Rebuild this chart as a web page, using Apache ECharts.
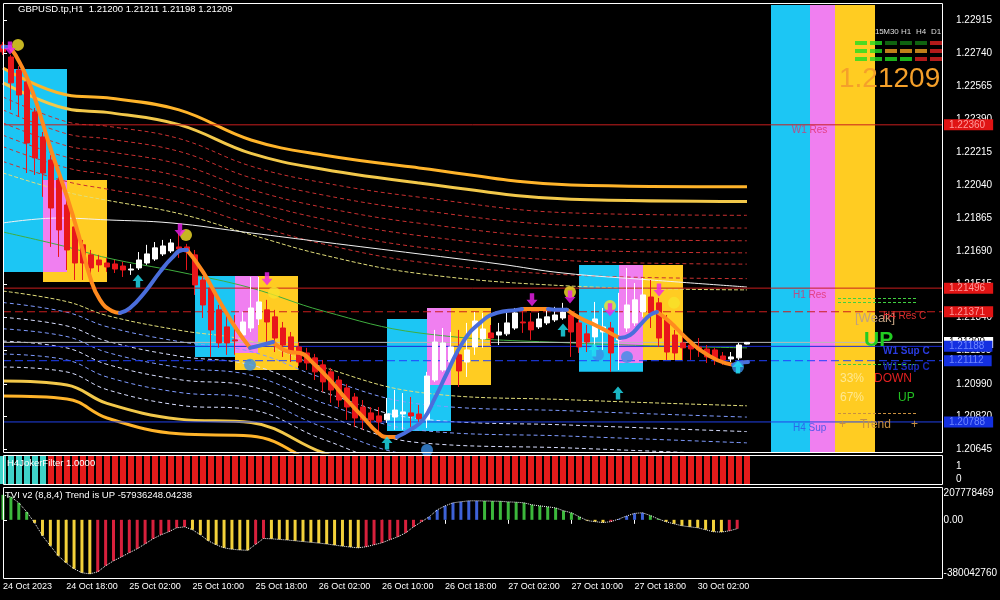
<!DOCTYPE html>
<html><head><meta charset="utf-8">
<script src="https://cdn.jsdelivr.net/npm/echarts@6/dist/echarts.min.js"></script>
<style>html,body{margin:0;padding:0;background:#000;}#c{width:1000px;height:600px;}</style>
</head><body><div id="c"></div>
<script>
// ---------------- DATA ----------------
const timeLabels = ['24 Oct 2023','24 Oct 18:00','25 Oct 02:00','25 Oct 10:00','25 Oct 18:00','26 Oct 02:00','26 Oct 10:00','26 Oct 18:00','27 Oct 02:00','27 Oct 10:00','27 Oct 18:00','30 Oct 02:00'];
const priceTicks = [1.22915,1.22740,1.22565,1.22390,1.22215,1.22040,1.21865,1.21690,1.21515,1.21340,1.21165,1.20990,1.20820,1.20645];

const openP = [1.22783,1.22719,1.22650,1.22587,1.22428,1.22296,1.22174,1.22068,1.21936,1.21820,
1.21725,1.21672,1.21645,1.21629,1.21624,1.21613,1.21592,1.21603,1.21629,1.21650,
1.21677,1.21693,1.21714,1.21714,1.21672,1.21539,1.21497,1.21381,1.21291,1.21222,
1.21248,1.21285,1.21333,1.21381,1.21344,1.21285,1.21238,1.21185,1.21153,1.21127,
1.21090,1.21053,1.21010,1.20968,1.20920,1.20867,1.20836,1.20820,1.20799,1.20814,
1.20830,1.20836,1.20830,1.20799,1.21010,1.21063,1.21105,1.21143,1.21105,1.21185,
1.21227,1.21259,1.21248,1.21254,1.21285,1.21317,1.21317,1.21291,1.21312,1.21328,
1.21338,1.21354,1.21312,1.21254,1.21238,1.21264,1.21285,1.21222,1.21285,1.21312,
1.21370,1.21449,1.21418,1.21328,1.21248,1.21206,1.21195,1.21185,1.21174,1.21169,
1.21137,1.21121,1.21127,1.21200];
const highP = [1.22799,1.22730,1.22672,1.22598,1.22449,1.22322,1.22201,1.22095,1.21963,1.21846,
1.21751,1.21698,1.21672,1.21656,1.21645,1.21635,1.21624,1.21687,1.21725,1.21740,
1.21751,1.21756,1.21788,1.21730,1.21698,1.21560,1.21518,1.21407,1.21354,1.21354,
1.21370,1.21555,1.21555,1.21434,1.21381,1.21317,1.21264,1.21211,1.21180,1.21148,
1.21116,1.21074,1.21031,1.20989,1.20941,1.20904,1.20867,1.20867,1.20915,1.20957,
1.20941,1.20920,1.20878,1.21053,1.21275,1.21285,1.21264,1.21275,1.21312,1.21370,
1.21365,1.21301,1.21312,1.21365,1.21391,1.21381,1.21365,1.21365,1.21381,1.21397,
1.21418,1.21370,1.21328,1.21301,1.21423,1.21391,1.21317,1.21471,1.21603,1.21523,
1.21550,1.21539,1.21444,1.21354,1.21275,1.21238,1.21222,1.21232,1.21195,1.21180,
1.21158,1.21158,1.21206,1.21211];
const lowP = [1.22730,1.22439,1.22402,1.22105,1.22095,1.21979,1.21714,1.21661,1.21592,1.21539,
1.21539,1.21555,1.21582,1.21582,1.21576,1.21555,1.21566,1.21592,1.21619,1.21640,
1.21666,1.21682,1.21656,1.21592,1.21460,1.21338,1.21132,1.21180,1.21143,1.21143,
1.21222,1.21264,1.21301,1.21211,1.21158,1.21132,1.21105,1.21084,1.21063,1.21010,
1.20947,1.20889,1.20867,1.20799,1.20762,1.20746,1.20756,1.20735,1.20783,1.20746,
1.20746,1.20762,1.20783,1.20756,1.21000,1.21053,1.21090,1.20973,1.21026,1.21143,
1.21180,1.21195,1.21195,1.21243,1.21275,1.21259,1.21222,1.21280,1.21301,1.21317,
1.21328,1.21132,1.21153,1.21158,1.21185,1.21169,1.21053,1.21063,1.21264,1.21296,
1.21344,1.21285,1.21185,1.21116,1.21116,1.21116,1.21116,1.21132,1.21100,1.21090,
1.21090,1.21105,1.21116,1.21198];
const closeP = [1.22746,1.22582,1.22518,1.22264,1.22185,1.22105,1.21920,1.21804,1.21698,1.21629,
1.21629,1.21603,1.21619,1.21608,1.21597,1.21592,1.21597,1.21645,1.21677,1.21709,
1.21719,1.21735,1.21703,1.21687,1.21513,1.21407,1.21275,1.21206,1.21206,1.21217,
1.21317,1.21391,1.21423,1.21317,1.21232,1.21195,1.21158,1.21105,1.21100,1.21053,
1.21000,1.20957,1.20904,1.20867,1.20809,1.20799,1.20799,1.20788,1.20830,1.20851,
1.20841,1.20820,1.20804,1.21031,1.21211,1.21206,1.21185,1.21058,1.21169,1.21322,
1.21280,1.21232,1.21264,1.21312,1.21365,1.21312,1.21275,1.21333,1.21344,1.21354,
1.21370,1.21264,1.21185,1.21211,1.21333,1.21291,1.21153,1.21238,1.21407,1.21434,
1.21460,1.21365,1.21232,1.21158,1.21153,1.21180,1.21174,1.21169,1.21132,1.21127,
1.21116,1.21132,1.21195,1.21209];

// moving averages / envelope (bar position, price)
const maSlots   = [0, 8, 13, 22, 31, 40, 52, 71, 93];
const greenMA   = [1.21793,1.21714,1.21656,1.21582,1.21497,1.21375,1.21259,1.21206,1.21180];
const bandWidth = [0.00868,0.00804,0.00847,0.00857,0.00783,0.00825,0.00873,0.00836,0.00852];
const bandLevels = [0.36,0.43,0.52,0.59,0.665,0.744,0.823,0.909,1.0];
const whiteSlots = [0,7,13,21,31,40,52,62,70,81,93];
const whiteMA    = [1.21841,1.21867,1.21857,1.21841,1.21788,1.21740,1.21677,1.21624,1.21576,1.21539,1.21502];

// trend line segments
const trendOrange = [
 [[0.875,1.22772],[2.125,1.22687],[3.75,1.22529],[5.875,1.22243],[8.0,1.21979],[9.625,1.21751],[10.875,1.21555],[12.125,1.21434],[13.625,1.21375],[14.625,1.21365]],
 [[23.0,1.21698],[25.0,1.21582],[27.125,1.21423],[29.25,1.21275],[30.875,1.21180]],
 [[33.75,1.21211],[35.875,1.21158],[37.125,1.21153],[38.75,1.21100],[40.875,1.21010],[43.0,1.20904],[45.0,1.20814],[46.75,1.20735],[48.0,1.20709],[49.25,1.20709]],
 [[64.875,1.21386],[66.5,1.21386],[68.125,1.21386]],
 [[70.5,1.21381],[72.125,1.21338],[74.0,1.21301],[75.875,1.21259],[77.125,1.21232]],
 [[81.75,1.21370],[83.375,1.21317],[85.25,1.21238],[87.125,1.21169],[89.25,1.21116],[91.25,1.21090]]
];
const trendBlue = [
 [[0.0,1.22772],[0.875,1.22772]],
 [[14.625,1.21365],[15.875,1.21391],[17.75,1.21476],[19.625,1.21582],[21.125,1.21656],[22.5,1.21698],[23.0,1.21698]],
 [[30.875,1.21180],[32.375,1.21195],[33.75,1.21211]],
 [[49.25,1.20709],[50.875,1.20746],[52.5,1.20799],[54.0,1.20915],[55.5,1.21047],[57.5,1.21211],[59.625,1.21312],[61.75,1.21365],[64.25,1.21381],[64.875,1.21386]],
 [[68.125,1.21386],[69.625,1.21381],[70.5,1.21381]],
 [[77.125,1.21232],[78.375,1.21248],[79.625,1.21301],[80.875,1.21354],[81.75,1.21370]],
 [[91.25,1.21090],[92.125,1.21100],[93.125,1.21105]]
];

// signals
const sellArrows = [[0.875,1.22767],[22.125,1.21804],[33.0,1.21545],[66.125,1.21434],[70.875,1.21449],[75.875,1.21381],[82.0,1.21486]];
const yellowDots = [[1.875,1.22783],[22.875,1.21777],[33.875,1.21471],[70.875,1.21476],[75.875,1.21402],[83.875,1.21418]];
const buyArrows  = [[16.875,1.21534],[48.0,1.20677],[70.0,1.21275],[73.875,1.21169],[76.875,1.20941],[91.875,1.21079]];
const blueDots   = [[30.875,1.21090],[53.0,1.20640],[78.0,1.21132],[74.375,1.21143],[91.875,1.21079]];

// session boxes [x0, x1, top, bottom]
const cyanBoxes   = [[0,8,1.22656,1.21582],[24,29,1.21560,1.21132],[48,56,1.21333,1.20740],[72,80,1.21619,1.21053]];
const yellowBoxes = [[5,13,1.22068,1.21529],[29,36.875,1.21560,1.21063],[53,61,1.21391,1.20984],[80,85,1.21619,1.21116]];
const pinkBoxes   = [[5,8,1.22068,1.21582],[29,31.875,1.21560,1.21153],[53,56,1.21391,1.20984],[77,80,1.21619,1.21100]];
const sideColumns = [[96,100.875,'#1CC6F4'],[100.875,104,'#F07FF0'],[104,109,'#FFCC22']];

// levels
const levelPrices = [1.22360,1.21496,1.21371,1.21209,1.21188,1.21112,1.20788];
const levelNames  = [['W1 Res',98.6,1.22333,'#E0306A'],['H1 Res',98.75,1.21460,'#E0306A'],['H4 Sup',98.75,1.20756,'#3050E8']];

// sub indicators
const jokerState = 'UUUUUUDDDDDDDDDDDDDDDDDDDDDDDDDDDDDDDDDDDDDDDDDDDDDDDDDDDDDDDDDDDDDDDDDDDDDDDDDDDDDDDDDDDDDDDD';
const tviValues = [163,150,111,52,-20,-104,-170,-235,-281,-320,
-346,-353,-340,-300,-268,-242,-215,-189,-157,-124,
-98,-78,-52,-46,-65,-98,-137,-163,-183,-192,
-197,-199,-160,-122,-124,-128,-132,-137,-142,-147,
-152,-158,-165,-172,-178,-183,-176,-163,-150,-130,
-111,-85,-46,-13,20,65,91,111,118,124,
124,123,122,121,117,115,111,98,91,85,
78,59,46,20,-5,-12,-18,-12,5,25,
42,46,28,6,-13,-26,-39,-46,-52,-65,
-78,-80,-72,-57.936248]; // millions
const tviMax = 207.778469, tviMin = -380.04276;

// MTF panel
const mtfFrames = ['M5','M15','M30','H1','H4','D1'];
const mtfRows = ['MACD','STR','EMA'];
const mtfState = [['g','g','d','d','d','r'],['g','g','o','o','o','r'],['g','g','g','g','r','r']];

// ---------------- CHART ----------------
const F = 'Liberation Sans';
const XMAX = 117.375;
const chart = echarts.init(document.getElementById('c'));
const series = [];

function boxSeries(boxes, color, z){
  return {type:'line', xAxisIndex:0, yAxisIndex:0, data:[[-5,1.21]], symbol:'none', lineStyle:{opacity:0}, z:z, silent:true,
    markArea:{silent:true, itemStyle:{color:color, opacity:1}, label:{show:false},
      data: boxes.map(b=>[{xAxis:b[0], yAxis:b[2]},{xAxis:b[1], yAxis:b[3]}])}};
}
series.push(boxSeries(cyanBoxes,'#1CC6F4',1));
series.push(boxSeries(yellowBoxes,'#FFCC22',1));
series.push(boxSeries(pinkBoxes,'#F07FF0',1));
series.push({type:'line', xAxisIndex:0, yAxisIndex:0, data:[[-5,1.21]], symbol:'none', lineStyle:{opacity:0}, z:1, silent:true,
  markArea:{silent:true, label:{show:false}, data: sideColumns.map(c=>[{xAxis:c[0], itemStyle:{color:c[2]}},{xAxis:c[1]}])}});

// envelope bands
const upStyles = [['#E2DE7A','dashed',1],['#C83030',[4,3],1],['#C83030',[4,3],1],['#C83030',[4,3],1],['#C83030',[4,3],1],['#C83030',[4,3],1],['#C83030',[4,3],1],['#F2C84A','solid',3],['#FFB42A','solid',3]];
const loStyles = [['#E2DE7A','dashed',1],['#7F9BFF',[4,3],1],['#D8DEFF',[4,3],1],['#7F9BFF',[4,3],1],['#D8DEFF',[4,3],1],['#7F9BFF',[4,3],1],['#D8DEFF',[4,3],1],['#F2C84A','solid',3],['#FFB42A','solid',3]];
bandLevels.forEach((lv,k)=>{
  series.push({type:'line', xAxisIndex:0, yAxisIndex:0, smooth:0.4, symbol:'none', z:2, silent:true,
    lineStyle:{color:upStyles[k][0], type:upStyles[k][1], width:upStyles[k][2]},
    data: maSlots.map((s,j)=>[s, greenMA[j] + lv*bandWidth[j]])});
  series.push({type:'line', xAxisIndex:0, yAxisIndex:0, smooth:0.4, symbol:'none', z:2, silent:true,
    lineStyle:{color:loStyles[k][0], type:loStyles[k][1], width:loStyles[k][2]},
    data: maSlots.map((s,j)=>[s, greenMA[j] - lv*bandWidth[j]])});
});
series.push({type:'line', xAxisIndex:0, yAxisIndex:0, smooth:0.4, symbol:'none', z:2, silent:true,
  lineStyle:{color:'#3FAE3F', width:1}, data: maSlots.map((s,j)=>[s, greenMA[j]])});
series.push({type:'line', xAxisIndex:0, yAxisIndex:0, smooth:0.4, symbol:'none', z:2, silent:true,
  lineStyle:{color:'#F2F2F2', width:1}, data: whiteSlots.map((s,j)=>[s, whiteMA[j]])});

// levels (horizontal lines with price tags)
const levelStyle = [
  {c:'#C81E1E', t:'solid', bg:'#E01414', fc:'#FF9A9A'},
  {c:'#C81E1E', t:'solid', bg:'#E01414', fc:'#FF9A9A'},
  {c:'#C81E1E', t:[8,4], bg:'#E01414', fc:'#FF9A9A'},
  {c:'#B8B8B8', t:'solid', bg:'#FFFFFF', fc:'#000000'},
  {c:'#1A2CD8', t:'solid', bg:'#1430E0', fc:'#7088FF'},
  {c:'#2040FF', t:[8,4], bg:'#1430E0', fc:'#7088FF'},
  {c:'#2040E8', t:'solid', bg:'#1430E0', fc:'#7088FF'}
];
levelPrices.forEach((p,i)=>{
  series.push({type:'line', xAxisIndex:0, yAxisIndex:0, symbol:'none', z:3, silent:true, clip:false,
    lineStyle:{color:levelStyle[i].c, type:levelStyle[i].t, width:1},
    endLabel:{show:true, distance:2, formatter:()=>p.toFixed(5), backgroundColor:levelStyle[i].bg, color:levelStyle[i].fc,
      padding:[1,8,0,5], fontSize:10, fontFamily:F},
    data:[[0,p],[XMAX,p]]});
});
series.push({type:'scatter', xAxisIndex:0, yAxisIndex:0, symbolSize:0, z:3, silent:true,
  data: levelNames.map(l=>({value:[l[1],l[2]], label:{show:true, formatter:l[0], position:'right', distance:0, color:l[3], fontSize:10, fontFamily:F}}))});

// candles
series.push({type:'candlestick', xAxisIndex:0, yAxisIndex:0, z:4, barWidth:5, silent:true,
  dimensions:['x','open','close','lowest','highest'], encode:{x:'x', y:['open','close','lowest','highest']},
  itemStyle:{color:'#FFFFFF', color0:'#E8161B', borderColor:'#FFFFFF', borderColor0:'#E8161B', borderWidth:1},
  data: openP.map((o,i)=>[i, o, closeP[i], lowP[i], highP[i]])});

// trend line
trendOrange.forEach(seg=>series.push({type:'line', xAxisIndex:0, yAxisIndex:0, smooth:0.5, symbol:'none', z:5, silent:true,
  lineStyle:{color:'#FF8A1E', width:4, cap:'round'}, data:seg}));
trendBlue.forEach(seg=>series.push({type:'line', xAxisIndex:0, yAxisIndex:0, smooth:0.5, symbol:'none', z:5, silent:true,
  lineStyle:{color:'#4A6EDC', width:4, cap:'round'}, data:seg}));

// signals
const downArrow = 'path://M3,0 H7 V6 H10 L5,12 L0,6 H3 Z';
const upArrow = 'path://M5,0 L10,6 H7 V12 H3 V6 H0 Z';
series.push({type:'scatter', xAxisIndex:0, yAxisIndex:0, z:6, silent:true, symbol:'circle', symbolSize:12, itemStyle:{color:'#F8E22A'}, data:yellowDots});
series.push({type:'scatter', xAxisIndex:0, yAxisIndex:0, z:6, silent:true, symbol:'circle', symbolSize:12, itemStyle:{color:'#3A8EE6'}, data:blueDots});
series.push({type:'scatter', xAxisIndex:0, yAxisIndex:0, z:7, silent:true, symbol:downArrow, symbolSize:[11,13], itemStyle:{color:'#F020F0'}, data:sellArrows});
series.push({type:'scatter', xAxisIndex:0, yAxisIndex:0, z:7, silent:true, symbol:upArrow, symbolSize:[11,13], itemStyle:{color:'#20E4F4'}, data:buyArrows});

// joker filter
series.push({type:'bar', xAxisIndex:1, yAxisIndex:1, barWidth:6, silent:true,
  data: jokerState.split('').map((s,i)=>({value:[i,1], itemStyle:{color: s==='U' ? '#3FD3C8' : '#E41B1B'}}))});

// TVI
const tviCol = tviValues.map((v,i)=>{
  const prev = i>0 ? tviValues[i-1] : v;
  if (v >= 0) return (i>0 && v >= prev) ? '#3E62D8' : '#3CB83C';
  return v <= prev ? '#F2D03A' : '#D8203C';
});
series.push({type:'bar', xAxisIndex:2, yAxisIndex:3, barWidth:3, silent:true,
  data: tviValues.map((v,i)=>({value:[i,v], itemStyle:{color:tviCol[i]}}))});
series.push({type:'line', xAxisIndex:2, yAxisIndex:3, symbol:'none', silent:true, z:3,
  lineStyle:{color:'#FFFFFF', width:1, type:'dotted'}, data: tviValues.map((v,i)=>[i,v])});

// MTF table
const mtfColor = {g:'#22DD22', d:'#137A13', o:'#F0A020', r:'#E02020'};
const mtfData = [];
mtfState.forEach((row,r)=>row.forEach((s,c)=>mtfData.push({value:[c,r], itemStyle:{color:mtfColor[s]}})));
series.push({type:'scatter', xAxisIndex:3, yAxisIndex:4, symbol:'rect', symbolSize:[12,4], silent:true, z:8, data:mtfData});

const hidden = {show:false};
const option = {
  backgroundColor:'#000000',
  animation:false,
  textStyle:{fontFamily:F},
  grid:[
    {left:3, top:5, width:939, height:447},
    {left:3, top:456, width:939, height:28},
    {left:3, top:488, width:939, height:90},
    {left:853.5, top:39, width:90, height:24}
  ],
  xAxis:[
    {type:'value', gridIndex:0, min:0, max:XMAX, show:false},
    {type:'value', gridIndex:1, min:0, max:XMAX, show:false},
    {type:'value', gridIndex:2, min:0, max:XMAX, position:'bottom',
      axisLine:{show:false}, splitLine:{show:false},
      axisTick:{show:true, length:4, lineStyle:{color:'#FFFFFF'}, customValues: timeLabels.map((t,i)=>i*8)},
      axisLabel:{show:true, color:'#FFFFFF', fontSize:9, fontFamily:F, align:'left', margin:4,
        customValues: timeLabels.map((t,i)=>i*8), formatter:(v)=>timeLabels[Math.round(v/8)] || ''}},
    {type:'category', gridIndex:3, data:mtfFrames, position:'top', axisLine:hidden, axisTick:hidden, splitLine:hidden,
      axisLabel:{color:'#DDDDDD', fontSize:8, fontFamily:F, margin:3, interval:0}}
  ],
  yAxis:[
    {type:'value', gridIndex:0, position:'right', min:1.20629, max:1.22994, splitLine:hidden, axisLine:hidden,
      axisTick:{show:true, length:4, lineStyle:{color:'#FFFFFF'}, customValues:priceTicks},
      axisLabel:{color:'#FFFFFF', fontSize:10, fontFamily:F, margin:14, customValues:priceTicks, formatter:(v)=>v.toFixed(5)}},
    {type:'value', gridIndex:1, min:0, max:1, show:false},
    {type:'value', gridIndex:1, position:'right', min:-0.385, max:1.77, splitLine:hidden, axisLine:hidden,
      axisTick:{show:false}, axisLabel:{color:'#FFFFFF', fontSize:10, fontFamily:F, margin:14, customValues:[0,1], formatter:(v)=>String(Math.round(v))}},
    {type:'value', gridIndex:2, position:'right', min:tviMin, max:tviMax, splitLine:hidden, axisLine:hidden,
      axisTick:{show:true, length:4, lineStyle:{color:'#FFFFFF'}, customValues:[0]},
      axisLabel:{color:'#FFFFFF', fontSize:10, fontFamily:F, margin:14, customValues:[tviMin,0,tviMax],
        verticalAlignMinLabel:'bottom', verticalAlignMaxLabel:'top',
        formatter:(v)=> v===0 ? '0.00' : Math.round(v*1e6).toString()}},
    {type:'category', gridIndex:3, data:mtfRows, inverse:true, axisLine:hidden, axisTick:hidden, splitLine:hidden,
      axisLabel:{color:'#D8D8D8', fontSize:8, fontFamily:F, margin:4}}
  ],
  graphic:[
    {type:'rect', shape:{x:3.5, y:3.5, width:939, height:449}, style:{fill:null, stroke:'#FFFFFF', lineWidth:1}, z:100},
    {type:'rect', shape:{x:3.5, y:455.5, width:939, height:29}, style:{fill:null, stroke:'#FFFFFF', lineWidth:1}, z:100},
    {type:'rect', shape:{x:3.5, y:487.5, width:939, height:91}, style:{fill:null, stroke:'#FFFFFF', lineWidth:1}, z:100},
    {type:'text', x:18, y:4, z:100, style:{text:'GBPUSD.tp,H1  1.21200 1.21211 1.21198 1.21209', fill:'#FFFFFF', font:'9.5px "Liberation Sans"'}},
    {type:'text', x:7, y:458, z:100, style:{text:'H4JokerFilter 1.0000', fill:'#FFFFFF', font:'9.5px "Liberation Sans"'}},
    {type:'text', x:5, y:490, z:100, style:{text:'TVI v2 (8,8,4) Trend is UP -57936248.04238', fill:'#FFFFFF', font:'9.5px "Liberation Sans"'}},
    {type:'text', x:839, y:65, z:100, style:{text:'1.21209', fill:'#F5A02A', font:'28px "Liberation Sans"'}},
    // right info panel
    {type:'line', shape:{x1:838, y1:298.5, x2:917, y2:298.5}, style:{stroke:'#40D040', lineDash:[3,2], lineWidth:1}, z:100},
    {type:'line', shape:{x1:838, y1:302.5, x2:917, y2:302.5}, style:{stroke:'#40D040', lineDash:[3,2], lineWidth:1}, z:100},
    {type:'line', shape:{x1:838, y1:364.5, x2:917, y2:364.5}, style:{stroke:'#40D040', lineDash:[3,2], lineWidth:1}, z:100},
    {type:'line', shape:{x1:838, y1:413.5, x2:917, y2:413.5}, style:{stroke:'#C89040', lineDash:[3,2], lineWidth:1}, z:100},
    {type:'text', x:855, y:312, z:100, style:{text:'[Weak]', fill:'#C0A080', font:'13px "Liberation Sans"'}},
    {type:'text', x:883, y:311, z:101, style:{text:'H4 Res C', fill:'#E03030', font:'10px "Liberation Sans"'}},
    {type:'text', x:864, y:330, z:101, style:{text:'UP', fill:'#22CC22', font:'bold 21px "Liberation Sans"'}},
    {type:'text', x:883, y:346, z:101, style:{text:'W1 Sup C', fill:'#2A3CE0', font:'bold 10px "Liberation Sans"'}},
    {type:'text', x:883, y:362, z:101, style:{text:'W1 Sup C', fill:'#1A28B8', font:'bold 10px "Liberation Sans"'}},
    {type:'text', x:840, y:373, z:101, style:{text:'33%', fill:'#FFE890', font:'12px "Liberation Sans"'}},
    {type:'text', x:874, y:373, z:101, style:{text:'DOWN', fill:'#E02020', font:'12px "Liberation Sans"'}},
    {type:'text', x:840, y:392, z:101, style:{text:'67%', fill:'#FFE890', font:'12px "Liberation Sans"'}},
    {type:'text', x:898, y:392, z:101, style:{text:'UP', fill:'#22C022', font:'12px "Liberation Sans"'}},
    {type:'text', x:839, y:419, z:101, style:{text:'+', fill:'#C89040', font:'12px "Liberation Sans"'}},
    {type:'text', x:860, y:419, z:101, style:{text:'Trend', fill:'#C89040', font:'12px "Liberation Sans"'}},
    {type:'text', x:911, y:419, z:101, style:{text:'+', fill:'#C89040', font:'12px "Liberation Sans"'}}
  ],
  series: series
};
chart.setOption(option);
</script></body></html>
